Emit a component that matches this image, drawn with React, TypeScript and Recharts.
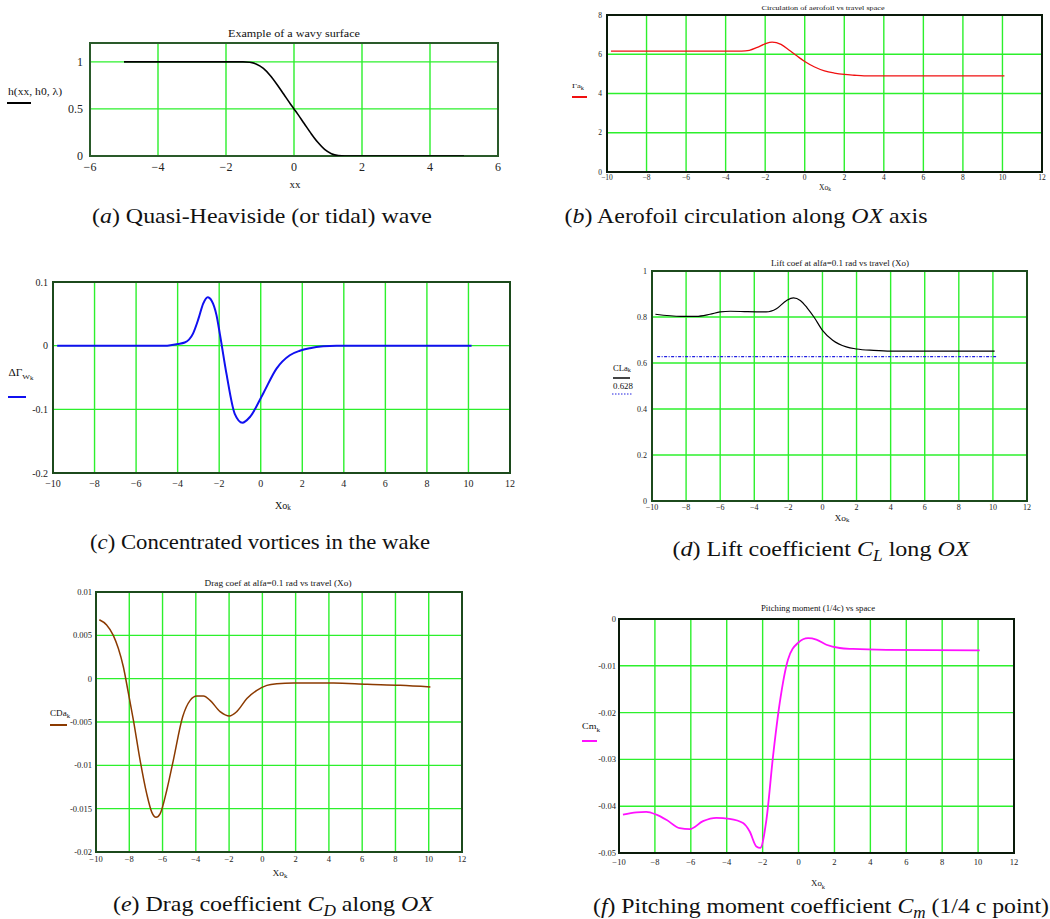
import React from 'react';
import { LineChart, Line, XAxis, YAxis, CartesianGrid, ReferenceArea } from 'recharts';

const FONT = "'Liberation Serif', 'DejaVu Serif', 'Noto Serif', 'Times New Roman', Times, serif";
const GRID = '#2cf02c';

// (a) wavy surface
const aX = [-5, -1.5, -1.3, -1.1, -0.9, -0.7, -0.5, -0.3, -0.1, 0, 0.1, 0.3, 0.5, 0.7, 0.9, 1.1, 1.3, 1.5, 5];
const aY = [1, 1, 0.995, 0.975, 0.93, 0.855, 0.76, 0.655, 0.55, 0.5, 0.45, 0.345, 0.24, 0.145, 0.07, 0.025, 0.005, 0, 0];
const aXTicks = [-6, -4, -2, 0, 2, 4, 6];
const aYTicks = [0, 0.5, 1];

// (b) circulation
const bX = [-9.8, -3.2, -2.8, -2.4, -2.0, -1.65, -1.2, -0.8, -0.4, 0, 0.5, 1.0, 1.5, 2.0, 2.5, 3.0, 10.1];
const bY = [6.16, 6.16, 6.2, 6.35, 6.53, 6.62, 6.5, 6.22, 5.92, 5.63, 5.35, 5.15, 5.04, 4.97, 4.93, 4.9, 4.9];
const bYTicks = [0, 2, 4, 6, 8];

// shared x ticks for Xo panels
const xoTicks = [-10, -8, -6, -4, -2, 0, 2, 4, 6, 8, 10, 12];

// (c) wake vortices
const cX = [-9.8, -4.5, -4.0, -3.66, -3.26, -3.0, -2.77, -2.55, -2.37, -2.13, -1.97, -1.65, -1.25, -0.88, -0.52, 0.12, 0.76, 1.4, 1.88, 2.37, 3.0, 3.65, 10.15];
const cY = [0, 0, 0.0026, 0.005, 0.019, 0.042, 0.066, 0.076, 0.071, 0.048, 0.019, -0.044, -0.107, -0.121, -0.112, -0.075, -0.036, -0.015, -0.008, -0.004, -0.001, 0, 0];
const cYTicks = [-0.2, -0.1, 0, 0.1];

// (d) lift coefficient
const dX = [-9.8, -8.3, -7.4, -6.6, -6.0, -5.4, -4.4, -3.3, -2.7, -2.1, -1.7, -1.3, -0.9, -0.5, 0, 0.6, 1.4, 2.0, 3.0, 4.0, 10.1];
const dY = [0.812, 0.803, 0.803, 0.812, 0.822, 0.825, 0.823, 0.822, 0.836, 0.872, 0.883, 0.872, 0.84, 0.8, 0.742, 0.699, 0.67, 0.661, 0.655, 0.652, 0.652];
const dRefX = [-9.7, 10.2];
const dRefY = [0.628, 0.628];
const dYTicks = [0, 0.2, 0.4, 0.6, 0.8, 1];

// (e) drag coefficient
const eX = [-9.8, -9.36, -8.96, -8.66, -8.36, -8.05, -7.75, -7.35, -6.95, -6.65, -6.39, -6.15, -5.75, -5.35, -4.79, -4.34, -3.94, -3.54, -3.14, -2.54, -1.98, -1.54, -0.93, -0.33, 0.27, 0.87, 1.87, 4.28, 6.29, 8.29, 10.1];
const eY = [0.0068, 0.0062, 0.005, 0.0035, 0.0014, -0.0017, -0.0048, -0.0094, -0.0133, -0.0154, -0.016, -0.0156, -0.0129, -0.0094, -0.0044, -0.0025, -0.002, -0.002, -0.0025, -0.0038, -0.0043, -0.0038, -0.0023, -0.00135, -0.00077, -0.00058, -0.0005, -0.0005, -0.00065, -0.00077, -0.00096];
const eYTicks = [-0.02, -0.015, -0.01, -0.005, 0, 0.005, 0.01];

// (f) pitching moment
const fX = [-9.78, -9.03, -8.48, -7.92, -7.36, -6.62, -6.06, -5.32, -4.58, -3.84, -3.09, -2.72, -2.35, -2.13, -1.79, -1.42, -1.05, -0.59, -0.03, 0.53, 0.99, 1.55, 2.29, 3.03, 4.89, 10.09];
const fY = [-0.0418, -0.0413, -0.0412, -0.0418, -0.0429, -0.0447, -0.0449, -0.0432, -0.0425, -0.0427, -0.0436, -0.0454, -0.0486, -0.0489, -0.0429, -0.0293, -0.018, -0.0087, -0.0051, -0.0041, -0.0044, -0.0055, -0.0062, -0.0064, -0.0066, -0.0067];
const fYTicks = [-0.05, -0.04, -0.03, -0.02, -0.01, 0];

const zip = (xs: number[], ys: number[]) => xs.map((x, i) => ({ x, y: ys[i] }));

type Series = { data: { x: number; y: number }[]; color: string; width: number; dash?: string };

type PanelProps = {
  rect: [number, number, number, number];
  xDomain: [number, number];
  xTicks: number[];
  yDomain: [number, number];
  yTicks: number[];
  tickFont: number;
  xGap: number;
  yGap: number;
  frame: string;
  series: Series[];
};

const fmtX = (v: number) => (v < 0 ? '\u2212' + Math.abs(v) : String(v));
const fmtY = (v: number) => String(v);

const YW = 60;
const XH = 30;
const MT = 10;
const MR = 15;

function Panel({ rect, xDomain, xTicks, yDomain, yTicks, tickFont, xGap, yGap, frame, series }: PanelProps) {
  const [L, T, R, B] = rect;
  const tick = { fontSize: tickFont, fill: '#222', fontFamily: FONT };
  return (
    <div style={{ position: 'absolute', left: L - YW, top: T - MT }}>
      <LineChart width={R - L + YW + MR} height={B - T + MT + XH} margin={{ top: MT, right: MR, left: 0, bottom: 0 }}>
        <CartesianGrid stroke={GRID} strokeWidth={1.4} />
        <XAxis
          type="number"
          dataKey="x"
          domain={xDomain}
          ticks={xTicks}
          interval={0}
          allowDataOverflow
          tickLine={false}
          axisLine={false}
          tickSize={0}
          tickMargin={xGap}
          height={XH}
          tick={tick}
          tickFormatter={fmtX}
        />
        <YAxis
          type="number"
          dataKey="y"
          domain={yDomain}
          ticks={yTicks}
          interval={0}
          allowDataOverflow
          tickLine={false}
          axisLine={false}
          tickSize={0}
          tickMargin={yGap}
          width={YW}
          tick={tick}
          tickFormatter={fmtY}
        />
        <ReferenceArea x1={xDomain[0]} x2={xDomain[1]} y1={yDomain[0]} y2={yDomain[1]} fill="none" fillOpacity={0} stroke={frame} strokeWidth={2} />
        {series.map((s, i) => (
          <Line
            key={i}
            data={s.data}
            dataKey="y"
            type="monotone"
            stroke={s.color}
            strokeWidth={s.width}
            strokeDasharray={s.dash}
            dot={false}
            activeDot={false}
            isAnimationActive={false}
          />
        ))}
      </LineChart>
    </div>
  );
}

// SVG text fitted to the width measured in the reference
function T({ x, y, size, w, children }: { x: number; y: number; size: number; w: number; children: React.ReactNode }) {
  return (
    <text
      x={x}
      y={y}
      fontSize={size}
      fontFamily={FONT}
      fill="#111"
      textAnchor="middle"
      dominantBaseline="central"
      textLength={w}
      lengthAdjust="spacingAndGlyphs"
    >
      {children}
    </text>
  );
}

// subscript followed by a return to the baseline
function Sub({ s, size, italic = false }: { s: string; size: number; italic?: boolean }) {
  return (
    <tspan fontSize={size * 0.72} dy={size * 0.3} fontStyle={italic ? 'italic' : undefined}>
      {s}
    </tspan>
  );
}
function Back({ size, children }: { size: number; children: React.ReactNode }) {
  return <tspan dy={-size * 0.3}>{children}</tspan>;
}

function LegendLine({ x1, x2, y, color, width = 2, dash }: { x1: number; x2: number; y: number; color: string; width?: number; dash?: string }) {
  return <line x1={x1} x2={x2} y1={y} y2={y} stroke={color} strokeWidth={width} strokeDasharray={dash} />;
}

const CAP = 22;

export default function App() {
  const xoDomain: [number, number] = [-10, 12];
  return (
    <div style={{ position: 'absolute', left: 0, top: 0, width: 1050, height: 919, background: '#fff', overflow: 'hidden' }}>
      <Panel
        rect={[90, 43, 498, 156]}
        xDomain={[-6, 6]}
        xTicks={aXTicks}
        yDomain={[0, 1.2]}
        yTicks={aYTicks}
        tickFont={12}
        xGap={6}
        yGap={7}
        frame="#2a5a2a"
        series={[{ data: zip(aX, aY), color: '#000', width: 1.6 }]}
      />
      <Panel
        rect={[607, 15, 1042, 172]}
        xDomain={xoDomain}
        xTicks={xoTicks}
        yDomain={[0, 8]}
        yTicks={bYTicks}
        tickFont={7.5}
        xGap={3}
        yGap={5}
        frame="#0a1a0a"
        series={[{ data: zip(bX, bY), color: '#f01010', width: 1.3 }]}
      />
      <Panel
        rect={[53, 282, 510, 473]}
        xDomain={xoDomain}
        xTicks={xoTicks}
        yDomain={[-0.2, 0.1]}
        yTicks={cYTicks}
        tickFont={10}
        xGap={7}
        yGap={5}
        frame="#1c4a1c"
        series={[{ data: zip(cX, cY), color: '#1010f0', width: 2 }]}
      />
      <Panel
        rect={[652, 271, 1027, 501]}
        xDomain={xoDomain}
        xTicks={xoTicks}
        yDomain={[0, 1]}
        yTicks={dYTicks}
        tickFont={8}
        xGap={3}
        yGap={5}
        frame="#1c4a1c"
        series={[
          { data: zip(dX, dY), color: '#000', width: 1.2 },
          { data: zip(dRefX, dRefY), color: '#2020e0', width: 1.3, dash: '3 1.5 1 1.5' },
        ]}
      />
      <Panel
        rect={[96, 592, 462, 852]}
        xDomain={xoDomain}
        xTicks={xoTicks}
        yDomain={[-0.02, 0.01]}
        yTicks={eYTicks}
        tickFont={8.5}
        xGap={4}
        yGap={4}
        frame="#1c4a1c"
        series={[{ data: zip(eX, eY), color: '#8b3a00', width: 1.5 }]}
      />
      <Panel
        rect={[619, 619, 1014, 853]}
        xDomain={xoDomain}
        xTicks={xoTicks}
        yDomain={[-0.05, 0]}
        yTicks={fYTicks}
        tickFont={8.5}
        xGap={6}
        yGap={3}
        frame="#0a1a0a"
        series={[{ data: zip(fX, fY), color: '#ff10ff', width: 1.8 }]}
      />

      <svg width={1050} height={919} style={{ position: 'absolute', left: 0, top: 0, pointerEvents: 'none' }}>
        {/* (a) */}
        <T x={294} y={33} size={10} w={132}>Example of a wavy surface</T>
        <T x={295} y={184} size={10} w={11}>xx</T>
        <T x={35} y={91} size={10} w={54}>h(xx, h0, λ)</T>
        <LegendLine x1={7} x2={31} y={103} color="#000" />
        <T x={262} y={215} size={CAP} w={340}>
          (<tspan fontStyle="italic">a</tspan>) Quasi-Heaviside (or tidal) wave
        </T>

        {/* (b) */}
        <T x={823} y={8} size={7} w={123}>Circulation of aerofoil vs travel space</T>
        <T x={825} y={187} size={7.5} w={12}>
          Xo<Sub s="k" size={7.5} />
        </T>
        <T x={578} y={86} size={7} w={12}>
          Γa<Sub s="k" size={7} />
        </T>
        <LegendLine x1={572} x2={587} y={97} color="#f01010" />
        <T x={746} y={215} size={CAP} w={363}>
          (<tspan fontStyle="italic">b</tspan>) Aerofoil circulation along <tspan fontStyle="italic">OX</tspan> axis
        </T>

        {/* (c) */}
        <T x={283} y={505} size={10} w={16}>
          Xo<Sub s="k" size={10} />
        </T>
        <T x={21} y={373} size={9.5} w={25}>
          ΔΓ<Sub s="W" size={9.5} /><tspan fontSize={9.5 * 0.6} dy={2}>k</tspan>
        </T>
        <LegendLine x1={8} x2={26} y={397} color="#1010f0" />
        <T x={260} y={541} size={CAP} w={340}>
          (<tspan fontStyle="italic">c</tspan>) Concentrated vortices in the wake
        </T>

        {/* (d) */}
        <T x={840} y={263} size={7.5} w={138}>Lift coef at alfa=0.1 rad vs travel (Xo)</T>
        <T x={842} y={518} size={7.5} w={15}>
          Xo<Sub s="k" size={7.5} />
        </T>
        <T x={622} y={368} size={7.5} w={18}>
          CLa<Sub s="k" size={7.5} />
        </T>
        <LegendLine x1={613} x2={630} y={378} color="#444" />
        <T x={623} y={386} size={7.5} w={20}>0.628</T>
        <LegendLine x1={612} x2={632} y={394} color="#2020e0" width={1} dash="1.5 1.5" />
        <T x={821} y={548} size={CAP} w={297}>
          (<tspan fontStyle="italic">d</tspan>) Lift coefficient <tspan fontStyle="italic">C</tspan>
          <Sub s="L" size={CAP} italic />
          <Back size={CAP}> long </Back>
          <tspan fontStyle="italic">OX</tspan>
        </T>

        {/* (e) */}
        <T x={278} y={583} size={8} w={147}>Drag coef at alfa=0.1 rad vs travel (Xo)</T>
        <T x={280} y={873} size={8.5} w={15}>
          Xo<Sub s="k" size={8.5} />
        </T>
        <T x={60} y={713} size={8.5} w={20}>
          CDa<Sub s="k" size={8.5} />
        </T>
        <LegendLine x1={50} x2={67} y={725} color="#8b3a00" />
        <T x={273} y={903} size={CAP} w={320}>
          (<tspan fontStyle="italic">e</tspan>) Drag coefficient <tspan fontStyle="italic">C</tspan>
          <Sub s="D" size={CAP} italic />
          <Back size={CAP}> along </Back>
          <tspan fontStyle="italic">OX</tspan>
        </T>

        {/* (f) */}
        <T x={818} y={608} size={9} w={114}>Pitching moment (1/4c) vs space</T>
        <T x={818} y={883} size={9} w={14}>
          Xo<Sub s="k" size={9} />
        </T>
        <T x={591} y={726} size={9} w={18}>
          Cm<Sub s="k" size={9} />
        </T>
        <LegendLine x1={582} x2={597} y={741} color="#ff10ff" />
        <T x={821} y={905} size={CAP} w={456}>
          (<tspan fontStyle="italic">f</tspan>) Pitching moment coefficient <tspan fontStyle="italic">C</tspan>
          <Sub s="m" size={CAP} italic />
          <Back size={CAP}> (1/4 c point)</Back>
        </T>
      </svg>
    </div>
  );
}
